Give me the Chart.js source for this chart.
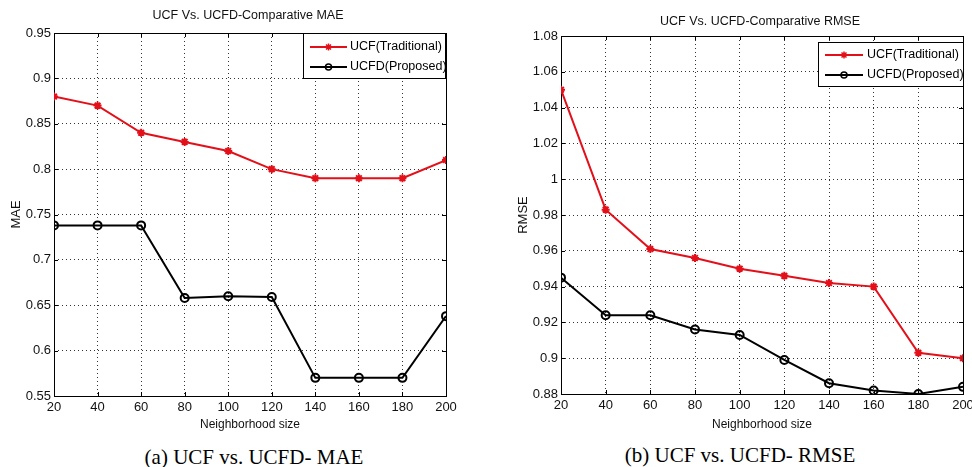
<!DOCTYPE html>
<html>
<head>
<meta charset="utf-8">
<script src="https://cdn.jsdelivr.net/npm/chart.js@4.4.1/dist/chart.umd.min.js"></script>
<style>
  body { margin: 0; width: 972px; height: 467px; background: #fff; overflow: hidden; position: relative; }
  .box { position: absolute; top: 0; height: 440px; }
  .ttl { position: absolute; font-family: 'Liberation Sans', Arial, sans-serif; font-size: 12.5px; color: #111; transform: translate(-50%, -50%); white-space: nowrap; }
  .cap { position: absolute; font-family: 'Liberation Serif', 'Times New Roman', serif; font-size: 21px; color: #000; transform: translate(-50%, -50%); white-space: nowrap; }
</style>
</head>
<body>
<div class="box" style="left:0;width:480px"><canvas id="maeChart" width="480" height="440"></canvas></div>
<div class="box" style="left:490px;width:500px"><canvas id="rmseChart" width="500" height="440"></canvas></div>
<div class="ttl" style="left:248px;top:15px">UCF Vs. UCFD-Comparative MAE</div>
<div class="ttl" style="left:760px;top:21px">UCF Vs. UCFD-Comparative RMSE</div>
<div class="cap" style="left:254px;top:457px">(a) UCF vs. UCFD- MAE</div>
<div class="cap" style="left:740px;top:455px">(b) UCF vs. UCFD- RMSE</div>
<script>
// neighborhood sizes
var sizes = [20, 40, 60, 80, 100, 120, 140, 160, 180, 200];

// MAE
var maeUCF  = [0.88, 0.87, 0.84, 0.83, 0.82, 0.80, 0.79, 0.79, 0.79, 0.81];
var maeUCFD = [0.738, 0.738, 0.738, 0.658, 0.66, 0.659, 0.57, 0.57, 0.57, 0.638];
var maeTicks = [0.55, 0.6, 0.65, 0.7, 0.75, 0.8, 0.85, 0.9, 0.95];

// RMSE
var rmseUCF  = [1.05, 0.983, 0.961, 0.956, 0.950, 0.946, 0.942, 0.940, 0.903, 0.900];
var rmseUCFD = [0.945, 0.924, 0.924, 0.916, 0.913, 0.899, 0.886, 0.882, 0.880, 0.884];
var rmseTicks = [0.88, 0.9, 0.92, 0.94, 0.96, 0.98, 1, 1.02, 1.04, 1.06, 1.08];

var seriesNames = ['UCF(Traditional)', 'UCFD(Proposed)'];

var RED = '#e3101a';
var FONT = "'Liberation Sans', Arial, sans-serif";

function pts(ys) {
    return sizes.map(function (x, i) { return {x: x, y: ys[i]}; });
}

function drawMarker(ctx, style, color, x, y) {
    ctx.save();
    ctx.strokeStyle = color;
    ctx.lineWidth = 1.5;
    ctx.beginPath();
    if (style === 'circle') {
        ctx.arc(x, y, 3, 0, Math.PI * 2);
    } else {
        for (var k = 0; k < 4; k++) {
            var a = k * Math.PI / 4;
            ctx.moveTo(x - 3.5 * Math.cos(a), y - 3.5 * Math.sin(a));
            ctx.lineTo(x + 3.5 * Math.cos(a), y + 3.5 * Math.sin(a));
        }
    }
    ctx.stroke();
    ctx.restore();
}

// box round the axes, with small inward ticks like matlab
var framePlugin = {
    id: 'frame',
    beforeDatasetsDraw: function (chart) {
        var ctx = chart.ctx, a = chart.chartArea, x = chart.scales.x, y = chart.scales.y;
        ctx.save();
        ctx.strokeStyle = '#000';
        ctx.lineWidth = 1;
        ctx.strokeRect(Math.round(a.left) + 0.5, Math.round(a.top) + 0.5, Math.round(a.width), Math.round(a.height));
        ctx.beginPath();
        x.ticks.forEach(function (t) {
            var px = Math.round(x.getPixelForValue(t.value)) + 0.5;
            ctx.moveTo(px, a.bottom); ctx.lineTo(px, a.bottom - 4);
            ctx.moveTo(px, a.top); ctx.lineTo(px, a.top + 4);
        });
        y.ticks.forEach(function (t) {
            var py = Math.round(y.getPixelForValue(t.value)) + 0.5;
            ctx.moveTo(a.left, py); ctx.lineTo(a.left + 4, py);
            ctx.moveTo(a.right, py); ctx.lineTo(a.right - 4, py);
        });
        ctx.stroke();
        ctx.restore();
    }
};

// matlab style legend box
var boxLegend = {
    id: 'boxLegend',
    afterDraw: function (chart, args, opts) {
        var ctx = chart.ctx;
        ctx.save();
        ctx.fillStyle = '#fff';
        ctx.fillRect(opts.left, opts.top, opts.right - opts.left, opts.bottom - opts.top);
        ctx.strokeStyle = '#000';
        ctx.lineWidth = 1;
        ctx.strokeRect(opts.left + 0.5, opts.top + 0.5, opts.right - opts.left, opts.bottom - opts.top);
        ctx.font = '12.5px ' + FONT;
        ctx.textBaseline = 'middle';
        chart.data.datasets.forEach(function (ds, i) {
            var yy = opts.rows[i];
            ctx.strokeStyle = ds.borderColor;
            ctx.lineWidth = 2;
            ctx.beginPath();
            ctx.moveTo(opts.lineFrom, yy);
            ctx.lineTo(opts.lineTo, yy);
            ctx.stroke();
            drawMarker(ctx, ds.pointStyle, ds.borderColor, (opts.lineFrom + opts.lineTo) / 2, yy);
            ctx.fillStyle = '#000';
            ctx.fillText(ds.label, opts.textX, yy);
        });
        ctx.restore();
    }
};

function makeChart(id, ucf, ucfd, yMin, yMax, yTicks, yTitle, pad, legend) {
    var el = document.getElementById(id).getContext('2d');
    return new Chart(el, {
        type: 'line',
        data: {
            datasets: [{
                label: seriesNames[0],
                data: pts(ucf),
                borderColor: RED,
                backgroundColor: RED,
                borderWidth: 2,
                pointStyle: 'star',
                pointRadius: 4,
                pointBorderWidth: 2,
                pointBorderColor: RED,
                tension: 0
            }, {
                label: seriesNames[1],
                data: pts(ucfd),
                borderColor: '#000',
                backgroundColor: 'transparent',
                borderWidth: 2,
                pointStyle: 'circle',
                pointRadius: 4,
                pointBorderWidth: 2,
                pointBorderColor: '#000',
                tension: 0
            }]
        },
        options: {
            responsive: false,
            animation: false,
            layout: { padding: pad },
            plugins: {
                legend: { display: false },
                tooltip: { enabled: false },
                boxLegend: legend
            },
            scales: {
                x: {
                    type: 'linear',
                    min: 20, max: 200,
                    ticks: { stepSize: 20, color: '#111', font: { family: FONT, size: 13 }, padding: 4, maxRotation: 0 },
                    grid: { color: '#333', drawTicks: false },
                    border: { display: false, dash: [1, 3] },
                    title: { display: true, text: 'Neighborhood size', color: '#111', font: { family: FONT, size: 12 }, padding: { top: 0, bottom: 8 } },
                    afterFit: function (s) { s.height = pad.xHeight; }
                },
                y: {
                    min: yMin, max: yMax,
                    afterBuildTicks: function (s) { s.ticks = yTicks.map(function (v) { return {value: v}; }); },
                    ticks: {
                        color: '#111', font: { family: FONT, size: 13 }, padding: 3,
                        callback: function (v) { return String(Number(v.toFixed(2))); }
                    },
                    grid: { color: '#333', drawTicks: false },
                    border: { display: false, dash: [1, 3] },
                    title: { display: true, text: yTitle, color: '#111', font: { family: FONT, size: 13 }, padding: { top: 6, bottom: 0 } },
                    afterFit: function (s) { s.width = pad.yWidth; }
                }
            }
        },
        plugins: [framePlugin, boxLegend]
    });
}

var maeChart = makeChart('maeChart', maeUCF, maeUCFD, 0.55, 0.95, maeTicks, 'MAE',
    { left: 3, right: 34, top: 33, bottom: 0, yWidth: 51, xHeight: 44 },
    { left: 303, top: 33, right: 445, bottom: 78, rows: [47, 67], lineFrom: 310, lineTo: 347, textX: 350 });

var rmseChart = makeChart('rmseChart', rmseUCF, rmseUCFD, 0.88, 1.08, rmseTicks, 'RMSE',
    { left: 20, right: 27, top: 36, bottom: 0, yWidth: 51, xHeight: 46 },
    { left: 328, top: 42, right: 473, bottom: 86, rows: [55, 75], lineFrom: 335, lineTo: 373, textX: 377 });
</script>
</body>
</html>
